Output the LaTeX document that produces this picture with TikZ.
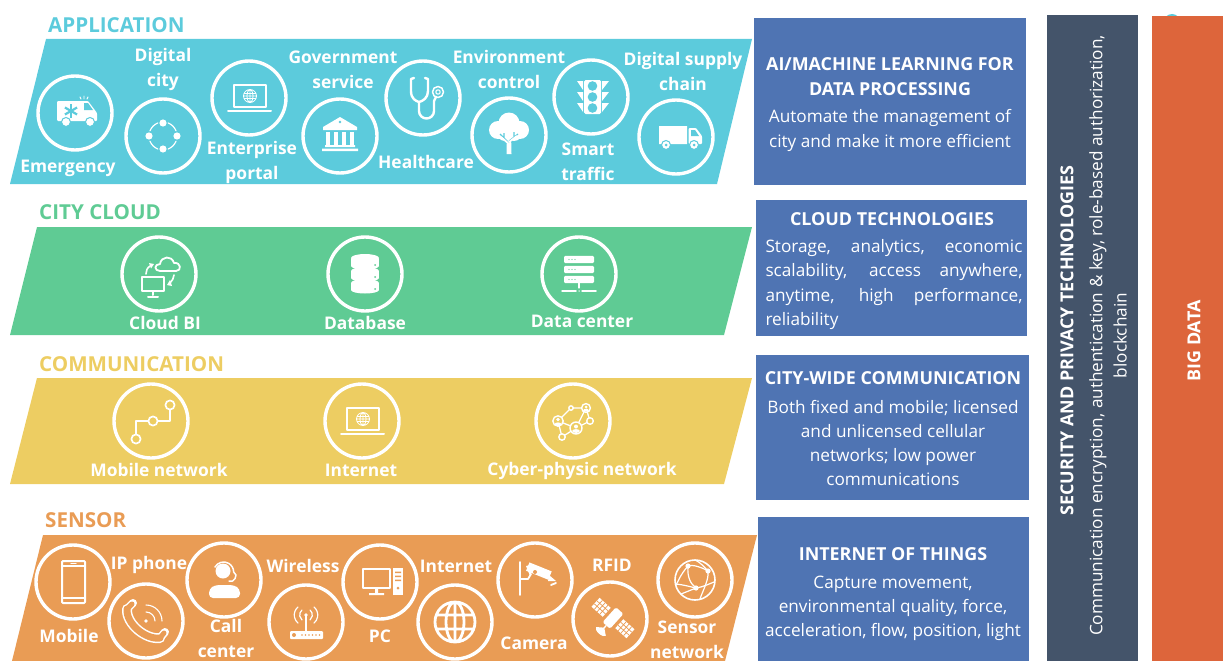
\documentclass[tikz,border=0pt]{standalone}
\usepackage{fontspec}
\setmainfont{Open Sans}
\definecolor{appc}{HTML}{5CCBDC}
\definecolor{cloudc}{HTML}{5FCB94}
\definecolor{commc}{HTML}{EDCD62}
\definecolor{sensc}{HTML}{E99C55}
\definecolor{bluec}{HTML}{4F74B3}
\definecolor{darkc}{HTML}{44546A}
\definecolor{orgc}{HTML}{DD653B}
\colorlet{bg}{appc}
\tikzset{
 x=1pt,y=1pt,
 ring/.style={circle,draw=white,line width=3.4pt,minimum size=74pt,inner sep=0pt},
 lab/.style={text=white,inner sep=0pt,align=center,font=\fontsize{17.4}{25}\selectfont\bfseries},
 head/.style={inner sep=0pt,anchor=west,font=\fontsize{20.6}{22}\selectfont\bfseries},
 band/.style={draw=none},
 boxtitle/.style={text=white,inner sep=0pt,align=center,font=\fontsize{17.9}{24.5}\selectfont\bfseries},
 boxtext/.style={text=white,inner sep=0pt,align=center,font=\fontsize{17.2}{24.3}\selectfont},
 panel/.style={draw=none,inner sep=0pt,anchor=north west},
 ic/.style={draw=white,line width=1.6pt,line cap=round,line join=round},
}
\newcommand\icAmb{
 \fill[white,rounded corners=1] (-18,12)--(13,12)--(22,0)--(22,-8)--(-18,-8)--cycle;
 \fill[bg] (9,10)--(13,10)--(18,3)--(9,3)--cycle;
 \foreach \a in {0,60,120}{\draw[bg,line width=2.2pt,rotate around={\a:(-4,2)}] (-4,-5)--(-4,9);}
 \fill[white,draw=bg,line width=1pt] (-9,-9) circle (4.5) (15,-9) circle (4.5);
 \draw[ic,line width=.9pt] (9,14)--(9,17) (6,14)--(5,16) (12,14)--(13,16);
}
\newcommand\icCycle{
 \fill[white] (0,13) circle (3.6) (14,0) circle (3.6) (0,-13) circle (3.6) (-14,0) circle (3.6);
 \foreach \a in {0,90,180,270}{\draw[ic,line width=1.2pt] (\a+22:14) arc (\a+22:\a+68:14);}
}
\newcommand\icLaptop{
 \draw[ic,line width=1.3pt] (-15,-9) rectangle (17,13);
 \draw[ic,line width=2pt] (-21,-13)--(22,-13);
 \draw[ic,line width=.8pt] (1,2) circle (6.5) (1,2) ellipse (3 and 6.5) (-5.5,2)--(7.5,2) (1,8.5)--(1,-4.5) (-5,4.5)--(7,4.5) (-5,-.5)--(7,-.5);
}
\newcommand\icBank{
 \fill[white] (0,19)--(17,9)--(17,6)--(-17,6)--(-17,9)--cycle;
 \fill[bg] (0,14) circle (1.3);
 \foreach \x in {-12,-4,4,12}{\fill[white] (\x-1.8,4) rectangle (\x+1.8,-9);}
 \fill[white] (-15,-9) rectangle (15,-11) (-18,-12.5) rectangle (18,-15);
}
\newcommand\icSteth{
 \draw[ic,line width=2.4pt] (-9,20)--(-12,19)--(-12,7) .. controls (-12,-1) and (-7,-3) .. (-4,-4) .. controls (0,-3) and (5,0) .. (5,7)--(5,19)--(2,20);
 \draw[ic,line width=2.4pt] (-4,-4)--(-4,-13) arc (180:360:7.5)--(11,-3) ;
 \draw[ic,line width=1.5pt] (15,6) circle (5.5);
 \draw[ic,line width=1.1pt] (15,6) circle (2.2);
 \draw[ic,line width=2.4pt] (11,-3)--(13,1);
}
\newcommand\icTree{
 \fill[white] (-11,5) circle (9) (11,5) circle (9) (0,12) circle (10.5) (-4,2) circle (8) (5,2) circle (8);
 \fill[white] (-2.5,-19)--(2.5,-19)--(2,2)--(-2,2)--cycle;
 \draw[bg,line width=1.1pt] (0,-8)--(-9,1) (0,-6)--(9,1) (-5,-3)--(-5,2) (5,-2)--(5,3);
 \draw[white,line width=1.8pt] (0,-9)--(-8,-2) (0,-7)--(8,-1);
}
\newcommand\icTraffic{
 \fill[white,rounded corners=1.5] (-7,-17) rectangle (10,17);
 \fill[bg] (1.5,11) circle (4.8) (1.5,0) circle (4.8) (1.5,-11) circle (4.8);
 \fill[white] \foreach \y in {11,0,-11}{(-14,\y+5)--(-8,\y+5)--(-8,\y-4)--cycle (18,\y+5)--(11,\y+5)--(11,\y-4)--cycle};
}
\newcommand\icTruck{
 \fill[white] (-17,11) rectangle (11,-4) (-17,-3) rectangle (11,-7);
 \fill[white,rounded corners=1] (12.5,9)--(20,9)--(26,1)--(26,-7)--(12.5,-7)--cycle;
 \fill[bg] (15,7)--(19,7)--(23,1)--(15,1)--cycle;
 \fill[white,draw=bg,line width=1pt] (-10,-8) circle (4.5) (18,-8) circle (4.5);
 \fill[bg] (-10,-8) circle (1.5) (18,-8) circle (1.5);
}
\newcommand\icCloudBI{
 \draw[ic,line width=2pt] (-17,-3) rectangle (5,-17);
 \draw[ic,line width=2pt] (-6,-17)--(-6,-21) (-11,-23)--(-1,-23);
 \draw[ic,line width=1.8pt] (1,3)  .. controls (-5,3) and (-5,10) .. (1,10) .. controls (2,18) and (13,19) .. (15,11) .. controls (22,12) and (23,3) .. (17,3) -- cycle;
 \draw[ic,line width=1.6pt] (-13,0) .. controls (-13,3) and (-12,6) .. (-9,8);
 \fill[white] (-5,10)--(-10,11)--(-8,5.5)--cycle;
 \draw[ic,line width=1.6pt] (15,-1) .. controls (15,-4) and (13,-7) .. (11,-9);
 \fill[white] (8,-11)--(13,-12)--(11,-6)--cycle;
}
\newcommand\icDb{
 \foreach \y in {12,0,-12}{
  \fill[white] (-14,\y+3) rectangle (14,\y-4);
  \fill[white] (0,\y+3) ellipse (14 and 4);
  \fill[white] (0,\y-4) ellipse (14 and 3.5);
  \draw[bg,line width=1pt] (-14,\y-6.4) .. controls (-8,\y-10) and (8,\y-10) .. (14,\y-6.4);
  \fill[bg] (10,\y-3) circle (1);
 }
 \fill[white] (0,16) ellipse (14 and 4);
}
\newcommand\icServer{
 \foreach \y in {14.5,4.5,-5.5}{
  \fill[white,rounded corners=1.2] (-15,\y+3.6) rectangle (15,\y-3.6);
  \foreach \x in {-10,-7,-4}{\fill[bg] (\x,\y) circle (.7);}
 }
 \draw[ic,line width=1.2pt] (0,-9)--(0,-14);
 \draw[ic,line width=1.5pt] (-17,-17)--(-3,-17) (3,-17)--(17,-17) (0,-17)--(0,-17);
}
\newcommand\icRoute{
 \draw[ic,line width=1.7pt] (19,16) circle (4.6) (2,0) circle (4.6) (-15,-18) circle (4.6);
 \draw[ic,line width=1.7pt] (19,11)--(19,0)--(7,0) (-3,0)--(-15,0)--(-15,-13);
}
\newcommand\icNet{
 \draw[ic,line width=1.3pt] (-15,0)--(-2,13)--(13,13)--(17,0)--(3,-7)--(-15,0)--(-11,-16)--(3,-7)--(13,13);
 \fill[bg,draw=white,line width=1.4pt] (-15,0) circle (5.2) (13,13) circle (4.4) (3,-7) circle (6) (17,0) circle (3.3) (-11,-16) circle (3.2) (-2,13) circle (2.2);
 \fill[white] (-15,1.5) circle (1.8) (-15,-3.2) ellipse (3.4 and 1.8) (13,14) circle (1.5) (13,10.8) ellipse (2.8 and 1.3) (3,-5.5) circle (2) (3,-10) ellipse (3.8 and 1.9);
}
\newcommand\icMobile{
 \draw[ic,line width=2pt,rounded corners=1] (-11,-21) rectangle (12,21);
 \draw[ic,line width=2pt] (-11,16)--(12,16) (-11,-16)--(12,-16);
 \draw[ic,line width=1.2pt] (-2,18.5)--(3,18.5);
}
\newcommand\icHandset{
 \draw[white,line width=10pt,line cap=round] (-19,12) .. controls (-20,-3) and (0,-19) .. (14,-17);
 \draw[white,line width=8pt,line cap=round] (-19,12)--(-13,18) (14,-17)--(19,-11);
 \draw[bg,line width=7pt,line cap=round] (-19,12) .. controls (-20,-3) and (0,-19) .. (14,-17);
 \draw[bg,line width=5pt,line cap=round] (-19,12)--(-14,17) (14,-17)--(18,-12);
 \fill[white] (0,0) circle (1.9);
 \draw[ic,line width=1.1pt] (0,9) arc (90:0:9) (0,16) arc (90:0:16);
}
\newcommand\icAgent{
 \fill[white] (-1,9) circle (7.5);
 \fill[white,rounded corners=4] (-15,-18)--(-15,-9)--(-9,-5)--(10,-5)--(16,-9)--(16,-18)--cycle;
 \draw[ic,line width=1.5pt] (-9,13) arc (150:0:10)--(12,5) arc (0:-60:7)--(5,-1);
}
\newcommand\icRouter{
 \fill[white,rounded corners=1] (-16,-9) rectangle (17,-17);
 \fill[bg] (-12,-13) circle (2);
 \foreach \x in {-4,-.5,3,6.5,10,13.5}{\fill[bg] (\x,-13) circle (.8);}
 \draw[ic,line width=1.3pt] (0,7)--(0,-9);
 \fill[white] (0,7) circle (1.8);
 \draw[ic,line width=1.2pt] (4,12) arc (50:-50:6.5) (-4,12) arc (130:230:6.5) (8,15) arc (50:-50:10.5) (-8,15) arc (130:230:10.5);
}
\newcommand\icPC{
 \draw[ic,line width=2.4pt] (-17,-6) rectangle (10,13);
 \fill[white] (-5,-6) rectangle (-2,-12) (-11,-11) rectangle (4,-13);
 \fill[white] (13,14) rectangle (23,-13);
 \fill[bg] (15,10.5) rectangle (21,9) (15,6.5) rectangle (21,5) (15,2.5) rectangle (21,1) (18,-6) circle (1.5);
}
\newcommand\icGlobe{
 \draw[ic,line width=2.8pt] (0,0) circle (20) (0,0) ellipse (9 and 20) (0,20)--(0,-20) (-18,7)--(18,7) (-18,-7)--(18,-7);
}
\newcommand\icCam{
 \draw[ic,line width=1.8pt] (-15,18)--(-15,-15);
 \draw[ic,line width=1.8pt] (-15,1)--(-7,1)--(-4,6);
 \fill[white,rotate around={-22:(5,9)}] (-8,4) rectangle (16,13);
 \fill[white] (-9,14)--(-1,16)--(-5,4)--cycle;
 \fill[white] (14,5)--(21,-1)--(13,-1)--cycle;
 \fill[bg] (0,8) circle (2);
 \draw[ic,line width=1.8pt] (16,-5)--(21,-3);
}
\newcommand\icSat{
 \begin{scope}[shift={(3,1)},rotate=-42]
 \foreach \s in {-1,1}{
  \begin{scope}[shift={(\s*16,0)}]
  \fill[white] (-7.5,-6) rectangle (7.5,6);
  \draw[bg,line width=.7pt] (-7.5,-2)--(7.5,-2) (-7.5,2)--(7.5,2) (-3.7,-6)--(-3.7,6) (0,-6)--(0,6) (3.7,-6)--(3.7,6);
  \end{scope}
 }
 \fill[white,rounded corners=1.5] (-5,-10) rectangle (5,10);
 \draw[white,line width=1.3pt] (0,-10)--(0,-14);
 \fill[white] (-6.5,-18) arc (180:360:6.5 and 3)--(6.5,-18)--(0,-13)--cycle;
 \end{scope}
}
\newcommand\icGlobeNet{
 \draw[ic,line width=1.6pt] (0,0) circle (20);
 \draw[ic,line width=1.2pt] (-7,14) .. controls (-15,5) and (-17,-2) .. (-19,-5);
 \draw[ic,line width=1.2pt] (-7,14) .. controls (-2,16) and (8,12) .. (13,9);
 \draw[ic,line width=1.2pt] (-7,14) .. controls (-8,2) and (-4,-4) .. (1,-8);
 \draw[ic,line width=1.2pt] (13,9) .. controls (14,0) and (8,-10) .. (5,-19);
 \draw[ic,line width=1.2pt] (-19,-4) .. controls (-10,-5) and (-4,-7) .. (1,-8) .. controls (8,-7) and (14,-4) .. (19,-2);
 \draw[ic,line width=1.2pt] (-14,-14) -- (1,-8);
 \draw[ic,line width=1.2pt] (13,9) .. controls (5,18) and (2,19) .. (0,20);
 \fill[white] (-7,14) circle (2.6) (13,9) circle (2.6) (1,-8) circle (2.6);
}
\newcommand\iconat[2]{\begin{scope}[shift={(#1.center)}]#2\end{scope}}
\begin{document}
\begin{tikzpicture}
\useasboundingbox (0,0) rectangle (1223,-661);
\clip (0,0) rectangle (1223,-661);
\fill[appc] (1172,-22) circle (8);
% bands
\fill[appc] (46,-39)--(752,-39)--(717,-184)--(10,-184)--cycle;
\fill[cloudc] (37,-227)--(752,-227)--(724,-335)--(10,-335)--cycle;
\fill[commc] (37,-378)--(752,-378)--(724,-484)--(10,-484)--cycle;
\fill[sensc] (43,-535)--(757,-535)--(725,-661)--(12,-661)--cycle;
% headings
\node[head,text=appc] (h1) at (48,-25.5) {APPLICATION};
\node[head,text=cloudc] (h2) at (39,-212.5) {CITY CLOUD};
\node[head,text=commc] (h3) at (39,-364.5) {COMMUNICATION};
\node[head,text=sensc] (h4) at (45,-520.5) {SENSOR};
% application
\colorlet{bg}{appc}
\node[ring] (a1) at (75,-113) {}; \iconat{a1}{\icAmb}
\node[ring] (a2) at (163,-136) {}; \iconat{a2}{\icCycle}
\node[ring] (a3) at (249,-98) {}; \iconat{a3}{\icLaptop}
\node[ring] (a4) at (340,-136) {}; \iconat{a4}{\icBank}
\node[ring] (a5) at (423,-98) {}; \iconat{a5}{\icSteth}
\node[ring] (a6) at (509,-135) {}; \iconat{a6}{\icTree}
\node[ring] (a7) at (591,-97) {}; \iconat{a7}{\icTraffic}
\node[ring] (a8) at (676,-137) {}; \iconat{a8}{\icTruck}
\node[lab] (la1) at (68,-168.5) {Emergency};
\node[lab] (la2) at (163,-69.5) {Digital\\city};
\node[lab] (la3) at (252,-162.5) {Enterprise\\portal};
\node[lab] (la4) at (343,-70) {Government\\service};
\node[lab] (la5) at (426,-161.5) {Healthcare};
\node[lab] (la6) at (509,-69.5) {Environment\\control};
\node[lab] (la7) at (588,-161.5) {Smart\\traffic};
\node[lab] (la8) at (683,-71.5) {Digital supply\\chain};
% cloud
\colorlet{bg}{cloudc}
\node[ring] (b1) at (159,-274) {}; \iconat{b1}{\icCloudBI}
\node[ring] (b2) at (365,-274) {}; \iconat{b2}{\icDb}
\node[ring] (b3) at (579,-274) {}; \iconat{b3}{\icServer}
\node[lab] (lb1) at (165,-322.5) {Cloud BI};
\node[lab] (lb2) at (365,-323) {Database};
\node[lab] (lb3) at (582,-321.5) {Data center};
% communication
\colorlet{bg}{commc}
\node[ring] (c1) at (151,-421) {}; \iconat{c1}{\icRoute}
\node[ring] (c2) at (362,-421) {}; \iconat{c2}{\icLaptop}
\node[ring] (c3) at (573,-421) {}; \iconat{c3}{\icNet}
\node[lab] (lc1) at (159,-470) {Mobile network};
\node[lab] (lc2) at (361,-470.5) {Internet};
\node[lab] (lc3) at (582,-471) {Cyber-physic network};
% sensor
\colorlet{bg}{sensc}
\node[ring] (d1) at (73,-582) {}; \iconat{d1}{\icMobile}
\node[ring] (d2) at (146,-621) {}; \iconat{d2}{\icHandset}
\node[ring] (d3) at (224,-580) {}; \iconat{d3}{\icAgent}
\node[ring] (d4) at (306,-622) {}; \iconat{d4}{\icRouter}
\node[ring] (d5) at (380,-582) {}; \iconat{d5}{\icPC}
\node[ring] (d6) at (455,-622) {}; \iconat{d6}{\icGlobe}
\node[ring] (d7) at (535,-580) {}; \iconat{d7}{\icCam}
\node[ring] (d8) at (610,-619) {}; \iconat{d8}{\icSat}
\node[ring] (d9) at (695,-580) {}; \iconat{d9}{\icGlobeNet}
\node[lab] (ld1) at (69,-635.5) {Mobile};
\node[lab] (ld2) at (149,-564.5) {IP phone};
\node[lab] (ld3) at (226,-638.5) {Call\\center};
\node[lab] (ld4) at (303,-566) {Wireless};
\node[lab] (ld5) at (380,-636) {PC};
\node[lab] (ld6) at (456,-566) {Internet};
\node[lab] (ld7) at (534,-643.5) {Camera};
\node[lab] (ld8) at (612,-565) {RFID};
\node[lab] (ld9) at (687,-639.5) {Sensor\\network};
% blue panels
\node[panel,fill=bluec,minimum width=272pt,minimum height=167pt] (p1) at (754,-18) {};
\node[panel,fill=bluec,minimum width=271pt,minimum height=136pt] (p2) at (756,-200) {};
\node[panel,fill=bluec,minimum width=273pt,minimum height=145pt] (p3) at (756,-355) {};
\node[panel,fill=bluec,minimum width=271pt,minimum height=144pt] (p4) at (758,-517) {};
\node[panel,fill=darkc,minimum width=91pt,minimum height=646pt] (p5) at (1047,-15) {};
\node[panel,fill=orgc,minimum width=71pt,minimum height=645pt] (p6) at (1152,-16) {};
\node[boxtitle] (t1) at (890,-76.5) {AI/MACHINE LEARNING FOR\\DATA PROCESSING};
\node[boxtext] (x1) at (890,-130.5) {Automate the management of\\city and make it more efficient};
\node[boxtitle] (t2) at (892,-219.5) {CLOUD TECHNOLOGIES};
\node[boxtext] (x2) at (894,-284.5) {\makebox[257pt][s]{Storage, analytics, economic}\\\makebox[257pt][s]{scalability, access anywhere,}\\\makebox[257pt][s]{anytime, high performance,}\\\makebox[257pt][l]{reliability}};
\node[boxtitle] (t3) at (893,-378.5) {CITY-WIDE COMMUNICATION};
\node[boxtext] (x3) at (893,-443) {Both fixed and mobile; licensed\\and unlicensed cellular\\networks; low power\\communications};
\node[boxtitle] (t4) at (893,-554.5) {INTERNET OF THINGS};
\node[boxtext] (x4) at (893,-608.5) {Capture movement,\\environmental quality, force,\\acceleration, flow, position, light};
\node[boxtitle,rotate=90] (t5) at (1067,-340.5) {SECURITY AND PRIVACY TECHNOLOGIES};
\node[boxtext,rotate=90] (x5) at (1108,-335.5) {Communication encryption, authentication \& key, role-based authorization,\\blockchain};
\node[boxtitle,rotate=90] (t6) at (1194,-341) {BIG DATA};
\end{tikzpicture}
\end{document}
